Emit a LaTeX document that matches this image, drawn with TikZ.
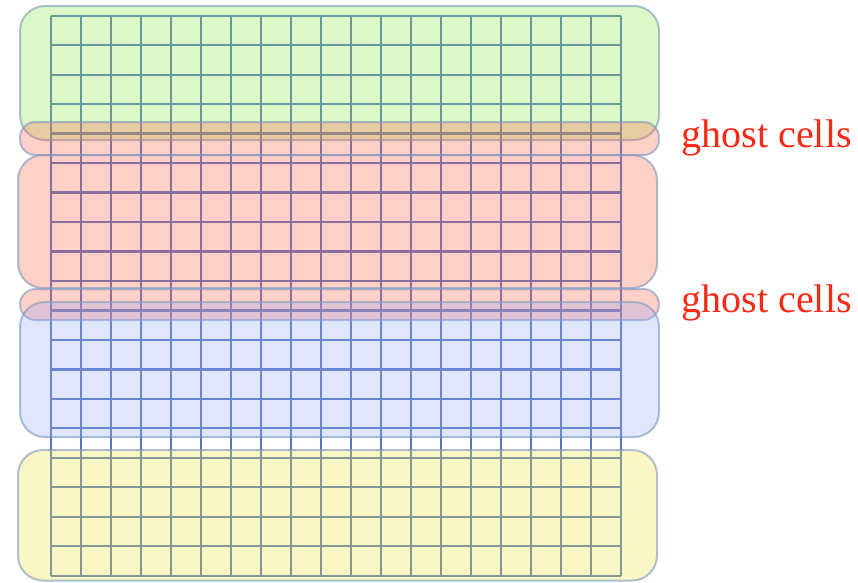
\documentclass[tikz,border=0pt]{standalone}
\usepackage{fontspec}
\setmainfont{Liberation Serif}
\definecolor{gridc}{RGB}{85,118,196}
\definecolor{edgec}{RGB}{123,150,190}
\definecolor{fgreen}{RGB}{142,232,72}
\definecolor{fred}{RGB}{255,98,72}
\definecolor{fblue}{RGB}{152,172,245}
\definecolor{fyellow}{RGB}{240,230,60}
\definecolor{labc}{RGB}{250,40,20}
\tikzset{
  block/.style={draw=edgec, draw opacity=0.6, line width=2pt, fill opacity=0.3, fill=#1, rounded corners=25pt},
  ghostband/.style={draw=edgec, draw opacity=0.6, line width=2pt, fill opacity=0.3, fill=fred, rounded corners=15.5pt},
  gridline/.style={draw=gridc, line width=2.3pt},
  lab/.style={text=labc, font=\fontsize{40pt}{44pt}\selectfont, anchor=base west, inner sep=0pt}
}
\begin{document}
\begin{tikzpicture}[x=1pt,y=-1pt]
\useasboundingbox (0,0) rectangle (858,582);
% grid
\foreach \i in {0,...,19} {
  \draw[gridline] ({50.7+30*\i},15.7) -- ({50.7+30*\i},575.7);
  \draw[gridline] (50.7,{15.7+560/19*\i}) -- (620.7,{15.7+560/19*\i});
}
% blocks
\draw[block=fgreen] (20,6) rectangle (659,140);
\draw[ghostband] (20,122) rectangle (659,155);
\draw[block=fred] (18,155) rectangle (657,288);
\draw[ghostband] (20,289) rectangle (659,320);
\draw[block=fblue] (20,302) rectangle (659,437);
\draw[block=fyellow] (18,450) rectangle (657,580.5);
% labels
\node[lab] (g1) at (681.5,147) {ghost cells};
\node[lab] (g2) at (681.5,312) {ghost cells};
\end{tikzpicture}
\end{document}
